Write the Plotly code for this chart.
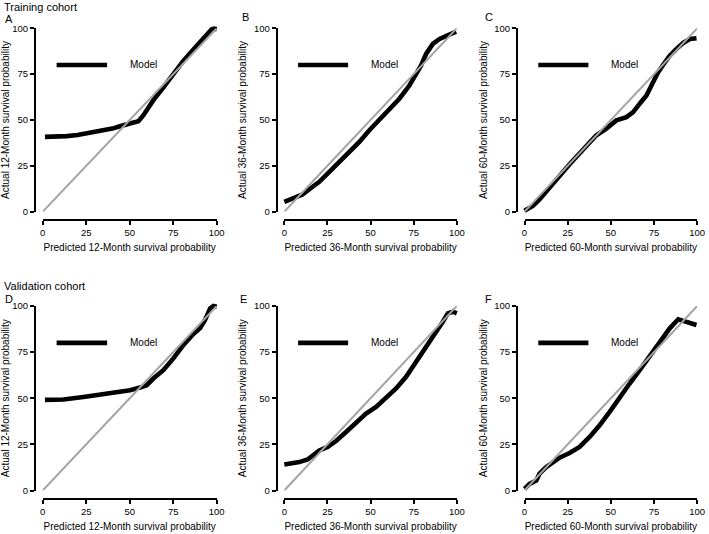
import plotly.graph_objects as go

W, H = 709, 534

# ---- data ----
months = ["12", "36", "60", "12", "36", "60"]
letters = ["A", "B", "C", "D", "E", "F"]
cohorts = ["Training cohort", "Validation cohort"]
tick_vals = [0, 25, 50, 75, 100]

pred_A = [1.3, 8, 13.8, 20, 25.3, 31, 36.8, 40, 44.4, 50.2, 55, 57.9, 60.5, 63.6, 69.3, 75.1, 80.8, 86.6, 92.3, 95.2, 97.1, 98.5, 100]
obs_A = [40.8, 40.9, 41.2, 41.8, 42.6, 43.5, 44.5, 45.3, 46.6, 48.0, 49.3, 52.6, 56.5, 60.8, 67.7, 75.0, 82.2, 88.4, 94.4, 98.0, 99.5, 99.8, 99.5]

pred_B = [0, 4.8, 10.6, 16.4, 20.3, 26.1, 31.9, 37.7, 43.5, 49.3, 55.1, 60.9, 66.7, 72.5, 76.4, 79.3, 82.2, 86.1, 90, 93.8, 97.7, 99.6]
obs_B = [5.4, 7.2, 9.4, 13.6, 16.3, 21.7, 27.2, 32.6, 38.0, 44.4, 50.2, 55.3, 61.6, 68.8, 75.2, 79.7, 86.0, 91.5, 94.2, 95.7, 97.5, 98.2]

pred_C = [0, 4.8, 8.7, 14.5, 20.3, 26.1, 31.9, 37.7, 41.6, 47.4, 51.3, 53.2, 59, 62.9, 66.7, 70.6, 74.5, 77.4, 80.3, 84.1, 88, 91.9, 95.7, 99.6]
obs_C = [0.5, 3.1, 6.7, 12.7, 19.4, 25.9, 31.7, 38.0, 41.7, 45.3, 48.4, 49.8, 51.6, 54.3, 58.9, 63.4, 70.7, 76.1, 80.1, 85.1, 88.8, 92.0, 94.2, 94.6]

pred_D = [1.3, 11.9, 23.4, 33, 42.5, 50.2, 55.9, 59.8, 63.6, 69.3, 75.1, 80.8, 86.6, 90.4, 93.3, 96.2, 98.1, 100]
obs_D = [49.1, 49.3, 50.7, 52.0, 52.9, 54.3, 55.8, 57.1, 60.7, 65.2, 71.6, 78.8, 84.8, 87.9, 92.4, 98.7, 100, 99.6]

pred_E = [0, 4.8, 8.7, 13.5, 16.4, 20.3, 25.1, 30, 35.8, 41.6, 47.4, 53.2, 59, 64.8, 70.6, 76.4, 82.2, 88, 91.9, 94.8, 97.7, 100]
obs_E = [14.1, 14.5, 15.4, 16.8, 19.0, 21.7, 23.6, 26.8, 31.7, 37.1, 41.7, 45.3, 50.4, 55.3, 61.6, 69.7, 77.0, 85.5, 91.5, 96.0, 96.9, 96.0]

pred_F = [0, 2.9, 6.8, 8.7, 12.6, 16.4, 20.3, 26.1, 31.9, 37.7, 43.5, 49.3, 55.1, 60.9, 66.7, 72.5, 78.3, 84.1, 89, 92.8, 96.7, 99.6]
obs_F = [0.9, 3.6, 5.4, 9.1, 12.7, 15.4, 17.8, 20.3, 23.6, 29.0, 35.3, 42.6, 50.7, 58.0, 65.2, 72.5, 80.1, 87.9, 92.8, 91.5, 90.2, 89.7]

ideal = [0, 100]
legend_x = [8, 37]
legend_y = [80, 80]

preds = [pred_A, pred_B, pred_C, pred_D, pred_E, pred_F]
obss = [obs_A, obs_B, obs_C, obs_D, obs_E, obs_F]

# ---- layout geometry (pixels) ----
col_x0 = [42.7, 284.3, 524.5]
col_x100 = [216.7, 456.8, 697.2]
row_y0 = [211.7, 490.5]
row_y100 = [28.3, 306.0]
gap_x = 4.4      # axis line offset from 0, in data units (R's 4% rule)
gap_y = 4.5
ext = 4.0        # room beyond 100 for the thick curve
AXW = 2          # axis line width

FONT = "Liberation Sans, Arial, Helvetica, sans-serif"

fig = go.Figure()
layout = dict(
    width=W, height=H, margin=dict(l=0, r=0, t=0, b=0, autoexpand=False),
    paper_bgcolor="white", plot_bgcolor="rgba(0,0,0,0)", showlegend=False,
    font=dict(family=FONT, color="black"),
)
annotations = []

for i in range(6):
    r, c = divmod(i, 3)
    sfx = "" if i == 0 else str(i + 1)
    tsfx = str(i + 7)
    xa, ya = "x" + sfx, "y" + sfx          # data axes (hidden, extended)
    xppu = (col_x100[c] - col_x0[c]) / 100
    yppu = (row_y0[r] - row_y100[r]) / 100
    xl = col_x0[c] - gap_x * xppu
    xr = col_x100[c] + ext * xppu
    yb = row_y0[r] + gap_y * yppu
    ytop = row_y100[r] - ext * yppu

    layout["xaxis" + sfx] = dict(domain=[xl / W, xr / W], range=[-gap_x, 100 + ext],
                                 anchor=ya, visible=False, automargin=False)
    layout["yaxis" + sfx] = dict(domain=[1 - yb / H, 1 - ytop / H], range=[-gap_y, 100 + ext],
                                 anchor=xa, visible=False, automargin=False)

    # R-style tick axes spanning 0..100 only, offset from the data
    layout["xaxis" + tsfx] = dict(
        domain=[col_x0[c] / W, col_x100[c] / W], range=[0, 100],
        anchor="free", position=1 - yb / H, automargin=False,
        tickvals=tick_vals, ticks="outside", ticklen=4, tickwidth=1.5, tickcolor="black",
        showline=True, linewidth=AXW, linecolor="black",
        showgrid=False, zeroline=False,
        tickfont=dict(size=9.5, family=FONT, color="black"),
        title=dict(text="Predicted %s-Month survival probability" % months[i],
                   font=dict(size=10, family=FONT, color="black"), standoff=6),
    )
    layout["yaxis" + tsfx] = dict(
        domain=[1 - row_y0[r] / H, 1 - row_y100[r] / H], range=[0, 100],
        anchor="free", position=xl / W, automargin=False,
        tickvals=tick_vals, ticks="outside", ticklen=4, tickwidth=1.5, tickcolor="black",
        showline=True, linewidth=AXW, linecolor="black",
        showgrid=False, zeroline=False,
        tickfont=dict(size=9.5, family=FONT, color="black"),
        title=dict(text="Actual %s-Month survival probability" % months[i],
                   font=dict(size=10, family=FONT, color="black"), standoff=4),
    )

    fig.add_trace(go.Scatter(x=preds[i], y=obss[i], mode="lines",
                             line=dict(color="black", width=4.6), xaxis=xa, yaxis=ya,
                             hoverinfo="skip"))
    fig.add_trace(go.Scatter(x=legend_x, y=legend_y, mode="lines",
                             line=dict(color="black", width=4.6), xaxis=xa, yaxis=ya,
                             hoverinfo="skip"))
    annotations.append(dict(text="Model", x=49, y=80, xref=xa, yref=ya, xanchor="left",
                            yanchor="middle", showarrow=False,
                            font=dict(size=10, family=FONT, color="black")))

for i in range(6):
    tsfx = str(i + 7)
    fig.add_trace(go.Scatter(x=ideal, y=ideal, mode="lines",
                             line=dict(color="#a4a4a4", width=2), xaxis="x" + tsfx,
                             yaxis="y" + tsfx, hoverinfo="skip", cliponaxis=False))

# panel letters and cohort titles
letter_pos = [(2.5, 19), (240.5, 16.5), (482.5, 17), (2.5, 299), (238, 299), (482.5, 299)]
for L, (px, py) in zip(letters, letter_pos):
    annotations.append(dict(text=L, x=px / W, y=1 - py / H, xref="paper", yref="paper",
                            xanchor="left", yanchor="middle", showarrow=False,
                            font=dict(size=11, family=FONT, color="black")))
cohort_pos = [(1.5, 7.5), (1.5, 286)]
for t, (px, py) in zip(cohorts, cohort_pos):
    annotations.append(dict(text=t, x=px / W, y=1 - py / H, xref="paper", yref="paper",
                            xanchor="left", yanchor="middle", showarrow=False,
                            font=dict(size=11, family=FONT, color="black")))

layout["annotations"] = annotations
fig.update_layout(**layout)
fig.write_html("out.html")
